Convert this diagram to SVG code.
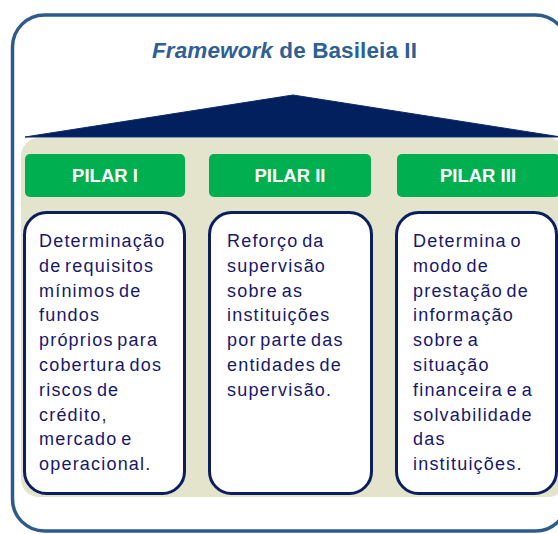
<svg xmlns="http://www.w3.org/2000/svg" width="558" height="534" viewBox="0 0 558 534">
<style>
.frame{fill:#fff;stroke:#2f5b8c;stroke-width:3.5}
.title{font-family:"Liberation Sans",Arial,sans-serif;font-weight:bold;font-size:22.5px;fill:#2f5f96}
.pil{fill:#00b050}
.pt{font-family:"Liberation Sans",Arial,sans-serif;font-weight:bold;font-size:18.5px;fill:#fff;text-anchor:middle}
.box{fill:#fff;stroke:#0b1f5e;stroke-width:3}
.bt{font-family:"Liberation Sans",Arial,sans-serif;font-size:18px;fill:#18186b;letter-spacing:1.2px;word-spacing:-2.5px}
</style>
<rect class="frame" x="12.5" y="15" width="555" height="516" rx="32"/>
<text class="title" x="152" y="58" textLength="265" lengthAdjust="spacing"><tspan font-style="italic">Framework</tspan> de Basileia II</text>
<polygon points="25,137 293,95 561,137" fill="#03205e" stroke="#0d2a6a" stroke-width="1"/>
<rect x="21" y="138" width="545" height="359" rx="18" fill="#e4e4cd"/>
<g id="pilar1">
<rect class="pil" x="25" y="154" width="160" height="43" rx="5"/>
<text class="pt" x="105" y="182">PILAR I</text>
<rect class="box" x="24.5" y="212.5" width="160" height="281" rx="22"/>
<text class="bt" x="39" y="247">
<tspan x="39" dy="0">Determinação</tspan>
<tspan x="39" dy="24.8">de requisitos</tspan>
<tspan x="39" dy="24.8">mínimos de</tspan>
<tspan x="39" dy="24.8">fundos</tspan>
<tspan x="39" dy="24.8">próprios para</tspan>
<tspan x="39" dy="24.8">cobertura dos</tspan>
<tspan x="39" dy="24.8">riscos de</tspan>
<tspan x="39" dy="24.8">crédito,</tspan>
<tspan x="39" dy="24.8">mercado e</tspan>
<tspan x="39" dy="24.8">operacional.</tspan>
</text>
</g>
<g id="pilar2">
<rect class="pil" x="209" y="154" width="162" height="43" rx="5"/>
<text class="pt" x="290" y="182">PILAR II</text>
<rect class="box" x="209.5" y="212.5" width="162" height="281" rx="22"/>
<text class="bt" x="227" y="247">
<tspan x="227" dy="0">Reforço da</tspan>
<tspan x="227" dy="24.8">supervisão</tspan>
<tspan x="227" dy="24.8">sobre as</tspan>
<tspan x="227" dy="24.8">instituições</tspan>
<tspan x="227" dy="24.8">por parte das</tspan>
<tspan x="227" dy="24.8">entidades de</tspan>
<tspan x="227" dy="24.8">supervisão.</tspan>
</text>
</g>
<g id="pilar3">
<rect class="pil" x="397" y="154" width="163" height="43" rx="5"/>
<text class="pt" x="478" y="182">PILAR III</text>
<rect class="box" x="396.5" y="212.5" width="160" height="281" rx="22"/>
<text class="bt" x="413" y="247">
<tspan x="413" dy="0">Determina o</tspan>
<tspan x="413" dy="24.8">modo de</tspan>
<tspan x="413" dy="24.8">prestação de</tspan>
<tspan x="413" dy="24.8">informação</tspan>
<tspan x="413" dy="24.8">sobre a</tspan>
<tspan x="413" dy="24.8">situação</tspan>
<tspan x="413" dy="24.8">financeira e a</tspan>
<tspan x="413" dy="24.8">solvabilidade</tspan>
<tspan x="413" dy="24.8">das</tspan>
<tspan x="413" dy="24.8">instituições.</tspan>
</text>
</g>
<g id="connectors"/>
</svg>
